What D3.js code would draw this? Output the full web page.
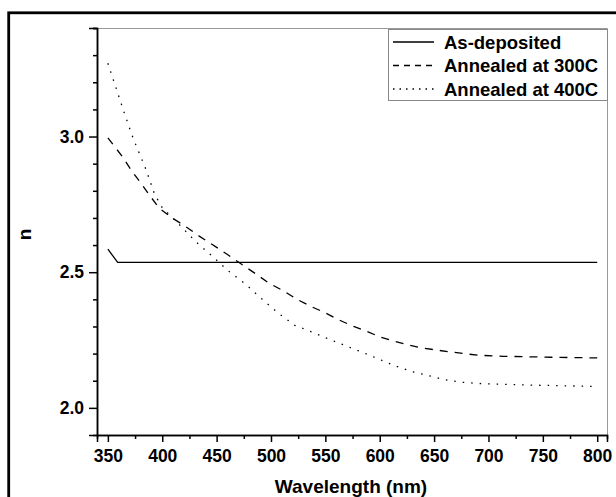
<!DOCTYPE html>
<html>
<head>
<meta charset="utf-8">
<script src="https://cdn.jsdelivr.net/npm/d3@7"></script>
<style>
  body { margin: 0; background: #fff; }
  svg { display: block; }
  text { font-family: "Liberation Sans", Arial, sans-serif; font-weight: bold; }
</style>
</head>
<body>
<svg id="chart"></svg>
<script>
// wavelength (nm) and refractive index n
const asDepWl = [350, 359, 400, 500, 600, 700, 800];
const asDepN = [2.585, 2.536, 2.536, 2.536, 2.536, 2.536, 2.536];

const a300Wl = [350, 363, 371, 380, 389, 397, 409, 421, 434, 446, 460, 472, 486, 498, 512, 524, 536, 550, 562, 576, 588, 600, 614, 625, 640, 665, 690, 714, 741, 766, 800];
const a300N = [2.995, 2.928, 2.879, 2.83, 2.78, 2.737, 2.70, 2.67, 2.633, 2.602, 2.565, 2.532, 2.494, 2.46, 2.43, 2.40, 2.375, 2.35, 2.325, 2.30, 2.282, 2.262, 2.245, 2.233, 2.22, 2.206, 2.194, 2.19, 2.188, 2.186, 2.184];

const a400Wl = [350, 365, 373, 385, 393, 400, 417, 431, 446, 461, 477, 492, 507, 522, 538, 553, 568, 584, 599, 614, 630, 644, 659, 674, 690, 720, 750, 800];
const a400N = [3.27, 3.088, 2.996, 2.879, 2.787, 2.738, 2.67, 2.612, 2.559, 2.504, 2.455, 2.40, 2.348, 2.304, 2.279, 2.254, 2.23, 2.205, 2.18, 2.155, 2.133, 2.12, 2.104, 2.095, 2.09, 2.086, 2.083, 2.079];

const seriesNames = ["As-deposited", "Annealed at 300C", "Annealed at 400C"];
const xTicks = [350, 400, 450, 500, 550, 600, 650, 700, 750, 800];
const yTicks = [2.0, 2.5, 3.0];

const W = 616, H = 497;
const plot = { left: 97, top: 28, right: 607, bottom: 435 };
const font = '"Liberation Sans", Arial, sans-serif';

const svg = d3.select('#chart').attr('width', W).attr('height', H);

// outer frame
svg.append('rect')
  .attr('x', 8.7).attr('y', 12.8)
  .attr('width', 640).attr('height', 520)
  .attr('fill', 'none').attr('stroke', '#000').attr('stroke-width', 2.8);

const xScale = d3.scaleLinear().domain([340, 809]).range([plot.left, plot.right]);
const yScale = d3.scaleLinear().domain([1.9, 3.4]).range([plot.bottom, plot.top]);

// plot box (top/right grey)
svg.append('path')
  .attr('d', `M${plot.left},${plot.top + 0.5}H${plot.right + 0.5}V${plot.bottom}`)
  .attr('fill', 'none').attr('stroke', '#999').attr('stroke-width', 1);

// x axis
const xAxis = svg.append('g').attr('transform', `translate(0,${plot.bottom})`);
xAxis.call(d3.axisBottom(xScale).tickValues(d3.range(375, 800, 50)).tickSize(4).tickFormat(''));
xAxis.append('g').call(d3.axisBottom(xScale).tickValues(xTicks).tickSize(7).tickPadding(8).tickFormat(d3.format('d')));
xAxis.selectAll('.domain').attr('stroke-width', 1.5);
xAxis.selectAll('line').attr('stroke-width', 1.5);
xAxis.selectAll('text').attr('font-size', 17.5).attr('fill', '#000')
  .style('font-family', font).style('font-weight', 'bold');

// y axis
const yMinor = d3.range(21, 35).map(v => v / 10).filter(v => v % 0.5 !== 0 && Math.round(v * 10) % 5 !== 0);
const yAxis = svg.append('g').attr('transform', `translate(${plot.left},0)`);
yAxis.call(d3.axisLeft(yScale).tickValues(yMinor).tickSize(4).tickFormat(''));
yAxis.append('g').call(d3.axisLeft(yScale).tickValues(yTicks).tickSize(8).tickPadding(5).tickFormat(d3.format('.1f')));
yAxis.selectAll('.domain').attr('stroke-width', 1.5);
yAxis.selectAll('line').attr('stroke-width', 1.5);
yAxis.selectAll('text').attr('font-size', 17.5).attr('fill', '#000')
  .style('font-family', font).style('font-weight', 'bold');

// axis titles
svg.append('text')
  .attr('x', 351).attr('y', 493)
  .attr('text-anchor', 'middle').attr('font-size', 19)
  .text('Wavelength (nm)');
svg.append('text')
  .attr('transform', `translate(30.5,234.5) rotate(-90)`)
  .attr('text-anchor', 'middle').attr('font-size', 19)
  .text('n');

// lines
const line = d3.line().x(d => xScale(d[0])).y(d => yScale(d[1]));
const series = [
  { name: seriesNames[0], pts: d3.zip(asDepWl, asDepN), dash: null, legDash: null },
  { name: seriesNames[1], pts: d3.zip(a300Wl, a300N), dash: '8,7', legDash: '6,5' },
  { name: seriesNames[2], pts: d3.zip(a400Wl, a400N), dash: '1.5,7', legDash: '1.5,5' }
];

svg.selectAll('.series').data(series).join('path')
  .attr('class', 'series')
  .attr('d', d => line(d.pts))
  .attr('fill', 'none')
  .attr('stroke', '#000')
  .attr('stroke-width', 1.3)
  .attr('stroke-dasharray', d => d.dash);

// legend
const legend = svg.append('g').attr('transform', 'translate(388,29)');
legend.append('rect')
  .attr('x', 0.5).attr('y', 0.5).attr('width', 219).attr('height', 71)
  .attr('fill', '#fff').attr('stroke', '#888').attr('stroke-width', 1);

const legendItems = legend.selectAll('.legend-items').data(series).join('g')
  .attr('class', 'legend-items')
  .attr('transform', (d, i) => `translate(0, ${13 + i * 23.5})`);

legendItems.append('line')
  .attr('x1', 5).attr('x2', 46).attr('y1', 0).attr('y2', 0)
  .attr('stroke', '#000').attr('stroke-width', 1.3)
  .attr('stroke-dasharray', d => d.legDash);

legendItems.append('text')
  .attr('x', 56).attr('y', 6.5).attr('font-size', 18.5)
  .text(d => d.name);
</script>
</body>
</html>
